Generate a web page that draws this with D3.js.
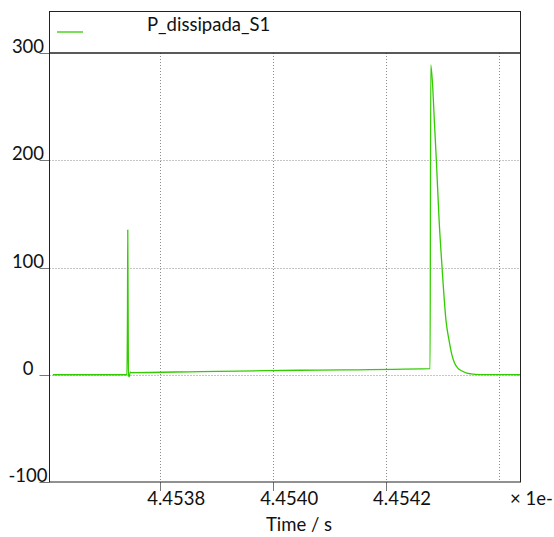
<!DOCTYPE html>
<html lang="en">
<head>
    <meta charset="UTF-8">
    <title></title>
    <style>
        body { margin: 0; background: #fff; }
        text { font-family: Lato, "Open Sans", sans-serif; fill: #111; }
    </style>
</head>
<body>

</body>
<script src="https://cdn.jsdelivr.net/npm/d3@7/dist/d3.min.js" charset="utf-8"></script>
<script>
    var seriesName = 'P_dissipada_S1';
    var time = [4.45361, 4.453741, 4.4537421, 4.4537426, 4.4537437, 4.4537451, 4.4537469, 4.4537487,
        4.4538708, 4.4540478, 4.4542779, 4.4542791, 4.4542827, 4.4542855, 4.454289, 4.4542938,
        4.4542991, 4.4543062, 4.4543115, 4.4543163, 4.4543212, 4.4543274, 4.4543345, 4.4543428,
        4.4543504, 4.4543664, 4.4544372];
    var power = [0, 0, 60, 135, 0, -2, 2.5, 2,
        3, 4.2, 5.8, 289, 267, 236, 200, 145,
        100, 50, 32, 19, 11, 6, 3.5, 1.5,
        0.8, 0.2, 0];
    var xTicks = [4.4538, 4.4540, 4.4542];
    var xTickLabels = ['4.4538', '4.4540', '4.4542'];
    var xGrid = [4.4538, 4.4540, 4.4542, 4.4544];
    var yTicks = [-100, 0, 100, 200, 300];
    var yGrid = [0, 100, 200];

    var width = 554, height = 537;
    var pLeft = 49.5, pRight = 520.5, pTop = 53, pBottom = 482;

    var x = d3.scaleLinear().domain([4.453604, 4.454438]).range([pLeft, pRight]);
    var y = d3.scaleLinear().domain([-100, 300]).range([pBottom, pTop]);

    var svg = d3.select('body')
            .append('svg')
            .attr('width', width)
            .attr('height', height);

    // grid
    svg.selectAll('.vgrid')
            .data(xGrid)
            .enter()
            .append('line')
            .attr('x1', function (d) { return Math.round(x(d)) + 0.5; })
            .attr('x2', function (d) { return Math.round(x(d)) + 0.5; })
            .attr('y1', pTop)
            .attr('y2', pBottom)
            .attr('stroke', '#8a8a8a')
            .attr('stroke-dasharray', '1,2');

    svg.selectAll('.hgrid')
            .data(yGrid)
            .enter()
            .append('line')
            .attr('x1', pLeft)
            .attr('x2', pRight)
            .attr('y1', function (d) { return Math.round(y(d)) + 0.5; })
            .attr('y2', function (d) { return Math.round(y(d)) + 0.5; })
            .attr('stroke', '#8a8a8a')
            .attr('stroke-dasharray', '1,2');

    // series
    var line = d3.line()
            .x(function (d, i) { return x(time[i]); })
            .y(function (d) { return y(d); })
            .curve(d3.curveMonotoneX);

    svg.append('path')
            .datum(power)
            .attr('d', line)
            .attr('fill', 'none')
            .attr('stroke', '#33cc00')
            .attr('stroke-width', 1.3)
            .attr('stroke-linejoin', 'round');

    // tick marks
    svg.selectAll('.ytick')
            .data(yTicks)
            .enter()
            .append('line')
            .attr('x1', pLeft - 10)
            .attr('x2', pLeft)
            .attr('y1', function (d) { return Math.round(y(d)) + 0.5; })
            .attr('y2', function (d) { return Math.round(y(d)) + 0.5; })
            .attr('stroke', '#777');

    svg.selectAll('.xtick')
            .data(xTicks)
            .enter()
            .append('line')
            .attr('x1', function (d) { return Math.round(x(d)) + 0.5; })
            .attr('x2', function (d) { return Math.round(x(d)) + 0.5; })
            .attr('y1', pBottom)
            .attr('y2', pBottom + 9)
            .attr('stroke', '#777');

    // frame
    svg.append('rect')
            .attr('x', pLeft)
            .attr('y', 11.5)
            .attr('width', pRight - pLeft)
            .attr('height', pBottom - 11.5)
            .attr('fill', 'none')
            .attr('stroke', '#222');

    svg.append('line')
            .attr('x1', pLeft)
            .attr('x2', pRight)
            .attr('y1', pTop)
            .attr('y2', pTop)
            .attr('stroke', '#222')
            .attr('stroke-width', 1.5);

    // labels
    svg.selectAll('.ylabel')
            .data(yTicks)
            .enter()
            .append('text')
            .text(function (d) { return d; })
            .attr('x', 28)
            .attr('y', function (d) { return y(d); })
            .attr('text-anchor', 'middle')
            .attr('font-size', '18.5px');

    svg.selectAll('.xlabel')
            .data(xTicks)
            .enter()
            .append('text')
            .text(function (d, i) { return xTickLabels[i]; })
            .attr('x', function (d) { return x(d) - 13; })
            .attr('y', 505)
            .attr('font-size', '18.5px');

    svg.append('text')
            .text('\u00d7 1e-')
            .attr('x', 510)
            .attr('y', 505)
            .attr('font-size', '18.5px');

    svg.append('text')
            .text('Time / s')
            .attr('x', 299)
            .attr('y', 531)
            .attr('text-anchor', 'middle')
            .attr('font-size', '18.5px');

    // legend
    svg.append('line')
            .attr('x1', 57)
            .attr('x2', 83)
            .attr('y1', 32)
            .attr('y2', 32)
            .attr('stroke', '#33cc00')
            .attr('stroke-width', 1.3);

    svg.append('text')
            .text(seriesName)
            .attr('x', 147)
            .attr('y', 31)
            .attr('font-size', '18.5px');
</script>
</html>
